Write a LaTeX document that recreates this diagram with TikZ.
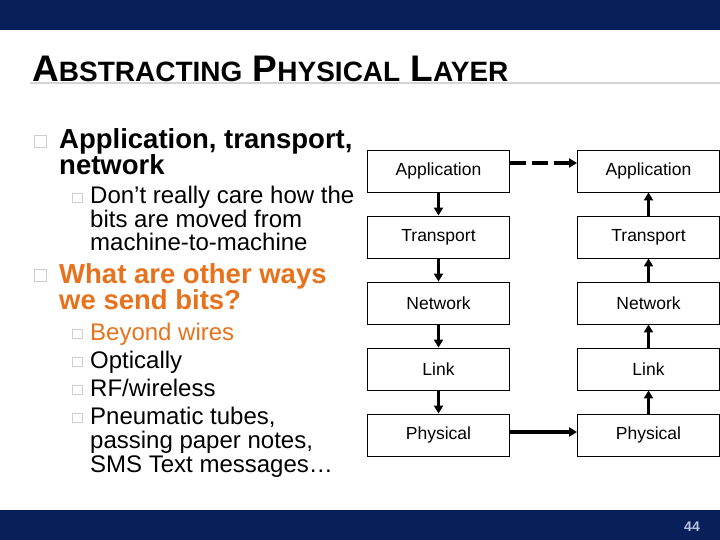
\documentclass[tikz,border=0pt]{standalone}
\usepackage{fontspec}
\setmainfont{Liberation Sans}
\usetikzlibrary{arrows.meta}
\definecolor{barnavy}{RGB}{8, 32, 90}
\definecolor{askorange}{RGB}{232, 114, 28}
\definecolor{bulletgray}{RGB}{205, 205, 205}
\definecolor{rulegray}{RGB}{212, 212, 212}
\definecolor{pagenum}{RGB}{182, 194, 226}
\newcommand{\fsz}[2]{\fontsize{#1}{#2}\selectfont}

\begin{document}
\begin{tikzpicture}[x=1pt, y=-1pt, >={Triangle[width=9pt,length=8pt]},
    layer/.style={draw, line width=0.9pt, minimum width=142pt, minimum height=42pt, inner sep=0pt, font=\fsz{17.5}{20}},
    flow/.style={->, line width=3.8pt},
    lvlone/.style={anchor=base west, inner sep=0pt, font=\bfseries\fsz{27.5}{28}},
    lvltwo/.style={anchor=base west, inner sep=0pt, font=\fsz{24}{24}},
    sqone/.style={draw=bulletgray, line width=0.8pt, minimum size=12pt, inner sep=0pt, anchor=south west},
    sqtwo/.style={draw=bulletgray, line width=0.8pt, minimum size=9.5pt, inner sep=0pt, anchor=south west}]
    \useasboundingbox (0, 0) rectangle (720, 540);
    \fill[barnavy] (0, 0) rectangle (720, 30);
    \fill[barnavy] (0, 510) rectangle (720, 540);
    \draw[rulegray, line width=1.5pt] (30, 83) -- (720, 83);
    \node[anchor=base west, inner sep=0pt, font=\bfseries\fsz{37}{37}] (title) at (32, 82)
      {A{\fsz{28}{28}BSTRACTING} P{\fsz{28}{28}HYSICAL} L{\fsz{28}{28}AYER}};
    \node[font=\bfseries\fsz{14}{14}, text=pagenum] (pg) at (692, 527) {44};

    % left column text
    \node[sqone] (s1) at (34, 148) {};
    \node[lvlone] (a1) at (59, 149) {Application, transport,};
    \node[lvlone] (a2) at (59, 175) {network};
    \node[sqtwo] (s2) at (72, 203) {};
    \node[lvltwo] (d1) at (90, 204) {Don’t really care how the};
    \node[lvltwo] (d2) at (90, 227) {bits are moved from};
    \node[lvltwo] (d3) at (90, 250) {machine-to-machine};
    \node[sqone] (s3) at (34, 282) {};
    \node[lvlone, text=askorange] (w1) at (59, 283) {What are other ways};
    \node[lvlone, text=askorange] (w2) at (59, 309) {we send bits?};
    \node[sqtwo] (s4) at (72, 339) {};
    \node[lvltwo, text=askorange] (e1) at (90, 340) {Beyond wires};
    \node[sqtwo] (s5) at (72, 367) {};
    \node[lvltwo] (e2) at (90, 368) {Optically};
    \node[sqtwo] (s6) at (72, 395) {};
    \node[lvltwo] (e3) at (90, 396) {RF/wireless};
    \node[sqtwo] (s7) at (72, 423) {};
    \node[lvltwo] (e4) at (90, 424) {Pneumatic tubes,};
    \node[lvltwo] (e5) at (90, 448) {passing paper notes,};
    \node[lvltwo] (e6) at (90, 472) {SMS Text messages…};

    % sending stack
    \node[layer] (appL) at (438.5, 171) {Application};
    \node[layer] (trnL) at (438.5, 237) {Transport};
    \node[layer] (netL) at (438.5, 303) {Network};
    \node[layer] (lnkL) at (438.5, 369) {Link};
    \node[layer] (phyL) at (438.5, 435) {Physical};
    % receiving stack
    \node[layer] (appR) at (648.5, 171) {Application};
    \node[layer] (trnR) at (648.5, 237) {Transport};
    \node[layer] (netR) at (648.5, 303) {Network};
    \node[layer] (lnkR) at (648.5, 369) {Link};
    \node[layer] (phyR) at (648.5, 435) {Physical};

    \draw[flow] (appL) -- (trnL);
    \draw[flow] (trnL) -- (netL);
    \draw[flow] (netL) -- (lnkL);
    \draw[flow] (lnkL) -- (phyL);
    \draw[flow] (phyR) -- (lnkR);
    \draw[flow] (lnkR) -- (netR);
    \draw[flow] (netR) -- (trnR);
    \draw[flow] (trnR) -- (appR);
    \draw[flow] ([yshift=3pt]phyL.east) -- ([yshift=3pt]phyR.west);
    \draw[flow, dash pattern=on 16pt off 6pt] ([yshift=8pt]appL.east) -- ([yshift=8pt]appR.west);
  \end{tikzpicture}
\end{document}
